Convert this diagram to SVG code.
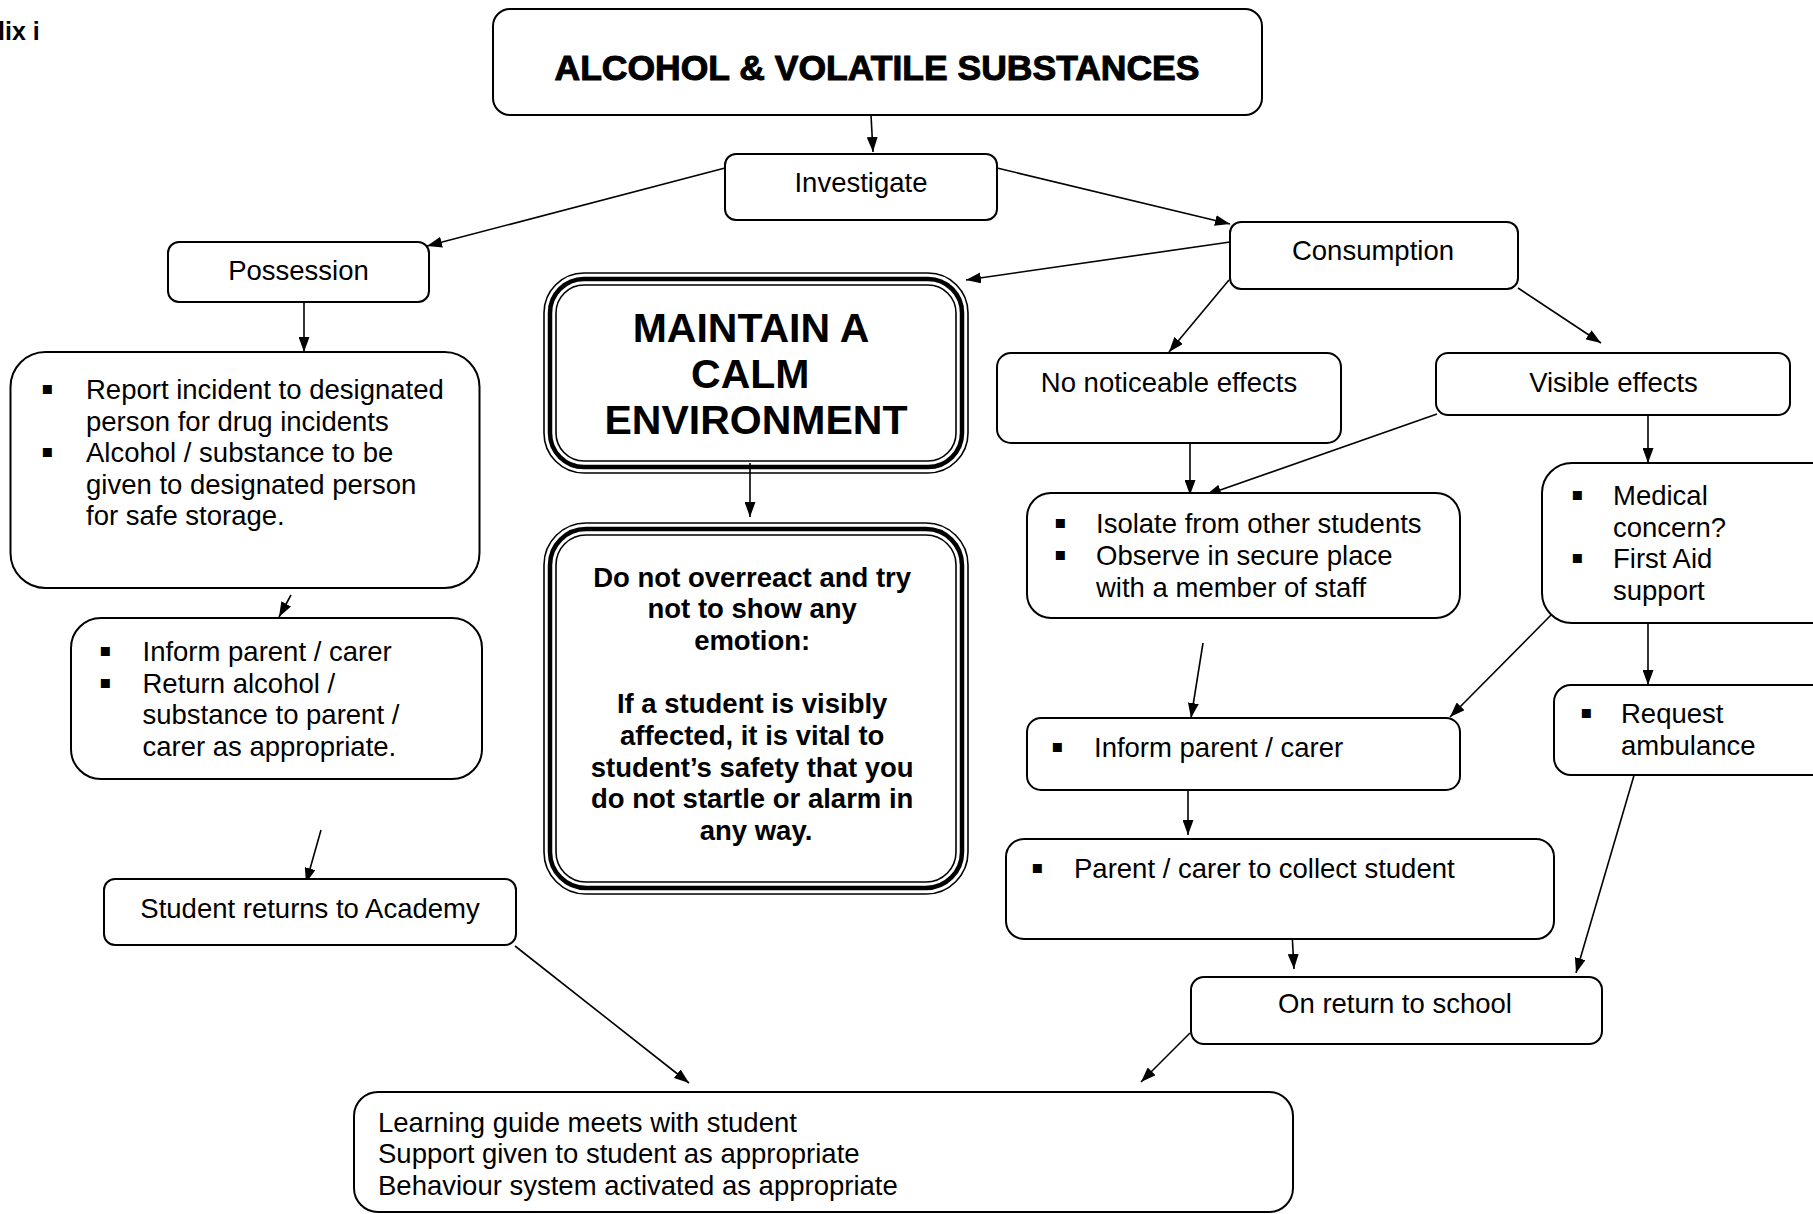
<svg xmlns="http://www.w3.org/2000/svg" width="1813" height="1214" viewBox="0 0 1813 1214">
<defs>
<marker id="ah" markerUnits="userSpaceOnUse" markerWidth="15" markerHeight="11" refX="15" refY="5.5" orient="auto">
<path d="M0,0 L15,5.5 L0,11 z" fill="#000"/>
</marker>
<style>
.box{fill:#fff;stroke:#000;stroke-width:2}
.thin{fill:none;stroke:#000;stroke-width:1.6}
.thick{fill:none;stroke:#000;stroke-width:4.5}
.t{font-family:"Liberation Sans",Arial,"DejaVu Sans",sans-serif;font-size:27.5px;fill:#000}
.b{font-weight:bold}
.c{text-anchor:middle}
.bul{font-family:"DejaVu Sans","Liberation Sans",sans-serif;font-size:18px}
.conn line{stroke:#000;stroke-width:1.6;marker-end:url(#ah)}
</style>
</defs>
<rect width="1813" height="1214" fill="#fff"/>
<text class="t b" x="-2" y="40" style="font-size:25px">lix i</text>

<g id="connectors" class="conn">
<line x1="871" y1="115" x2="873" y2="152"/>
<line x1="725" y1="168" x2="427" y2="246"/>
<line x1="997" y1="168" x2="1230" y2="224"/>
<line x1="1230" y1="242" x2="966" y2="280"/>
<line x1="304" y1="302" x2="304" y2="352"/>
<line x1="291" y1="595" x2="279" y2="617"/>
<line x1="321" y1="830" x2="306" y2="883"/>
<line x1="515" y1="946" x2="689" y2="1083"/>
<line x1="750" y1="463" x2="750" y2="517"/>
<line x1="1229" y1="280" x2="1169" y2="352"/>
<line x1="1518" y1="288" x2="1601" y2="343"/>
<line x1="1190" y1="443" x2="1190" y2="495"/>
<line x1="1437" y1="414" x2="1206" y2="495"/>
<line x1="1648" y1="416" x2="1648" y2="463"/>
<line x1="1203" y1="643" x2="1191" y2="718"/>
<line x1="1556" y1="610" x2="1450" y2="717"/>
<line x1="1648" y1="624" x2="1648" y2="685"/>
<line x1="1188" y1="786" x2="1188" y2="835"/>
<line x1="1292" y1="932" x2="1294" y2="969"/>
<line x1="1635" y1="772" x2="1576" y2="973"/>
<line x1="1190" y1="1033" x2="1141" y2="1082"/>
</g>

<g id="title">
<rect class="box" x="493" y="9" width="769" height="106" rx="17"/>
<text class="t b c" x="877" y="80" style="font-size:35.5px;stroke:#000;stroke-width:1">ALCOHOL &amp; VOLATILE SUBSTANCES</text>
</g>

<g id="investigate">
<rect class="box" x="725" y="154" width="272" height="66" rx="11"/>
<text class="t c" x="861" y="192">Investigate</text>
</g>

<g id="possession">
<rect class="box" x="168" y="242" width="261" height="60" rx="11"/>
<text class="t c" x="298.5" y="280">Possession</text>
</g>

<g id="consumption">
<rect class="box" x="1230" y="222" width="288" height="67" rx="11"/>
<text class="t c" x="1373" y="260">Consumption</text>
</g>

<g id="maintain">
<rect x="544" y="273" width="424" height="200" rx="40" fill="#fff" class="thin"/>
<rect class="thick" x="550" y="279" width="412" height="188" rx="34"/>
<rect class="thin" x="556" y="285" width="400" height="176" rx="28"/>
<text class="t b c" style="font-size:41px">
<tspan x="756" y="342">MAINTAIN A</tspan>
<tspan x="756" y="388">CALM</tspan>
<tspan x="756" y="434">ENVIRONMENT</tspan>
</text>
</g>

<g id="donot">
<rect x="544" y="523" width="424" height="371" rx="42" fill="#fff" class="thin"/>
<rect class="thick" x="550" y="529" width="412" height="359" rx="36"/>
<rect class="thin" x="556" y="535" width="400" height="347" rx="30"/>
<text class="t b c">
<tspan x="756" y="587">Do not overreact and try</tspan>
<tspan x="756" y="618">not to show any</tspan>
<tspan x="756" y="650">emotion:</tspan>
<tspan x="756" y="713">If a student is visibly</tspan>
<tspan x="756" y="745">affected, it is vital to</tspan>
<tspan x="756" y="777">student’s safety that you</tspan>
<tspan x="756" y="808">do not startle or alarm in</tspan>
<tspan x="756" y="840">any way.</tspan>
</text>
</g>

<g id="report">
<rect class="box" x="10.5" y="352" width="469" height="236" rx="35"/>
<text class="t bul" x="41" y="394">▪</text>
<text class="t bul" x="41" y="457">▪</text>
<text class="t">
<tspan x="86" y="399">Report incident to designated</tspan>
<tspan x="86" y="430.5">person for drug incidents</tspan>
<tspan x="86" y="462">Alcohol / substance to be</tspan>
<tspan x="86" y="493.5">given to designated person</tspan>
<tspan x="86" y="525">for safe storage.</tspan>
</text>
</g>

<g id="inform-left">
<rect class="box" x="71" y="618" width="411" height="161" rx="30"/>
<text class="t bul" x="99" y="656">▪</text>
<text class="t bul" x="99" y="687.5">▪</text>
<text class="t">
<tspan x="142.5" y="661">Inform parent / carer</tspan>
<tspan x="142.5" y="692.5">Return alcohol /</tspan>
<tspan x="142.5" y="724">substance to parent /</tspan>
<tspan x="142.5" y="755.5">carer as appropriate.</tspan>
</text>
</g>

<g id="student-returns">
<rect class="box" x="104" y="879" width="412" height="66" rx="11"/>
<text class="t c" x="310" y="918">Student returns to Academy</text>
</g>

<g id="no-effects">
<rect class="box" x="997" y="353" width="344" height="90" rx="14"/>
<text class="t c" x="1169" y="392">No noticeable effects</text>
</g>

<g id="visible-effects">
<rect class="box" x="1436" y="353" width="354" height="62" rx="12"/>
<text class="t c" x="1613.5" y="392">Visible effects</text>
</g>

<g id="isolate">
<rect class="box" x="1027" y="493" width="433" height="125" rx="24"/>
<text class="t bul" x="1054" y="528">▪</text>
<text class="t bul" x="1054" y="560">▪</text>
<text class="t">
<tspan x="1096" y="533">Isolate from other students</tspan>
<tspan x="1096" y="565">Observe in secure place</tspan>
<tspan x="1096" y="597">with a member of staff</tspan>
</text>
</g>

<g id="medical">
<rect class="box" x="1542" y="463" width="300" height="160" rx="30"/>
<text class="t bul" x="1571" y="500">▪</text>
<text class="t bul" x="1571" y="563">▪</text>
<text class="t">
<tspan x="1613" y="505">Medical</tspan>
<tspan x="1613" y="536.5">concern?</tspan>
<tspan x="1613" y="568">First Aid</tspan>
<tspan x="1613" y="599.5">support</tspan>
</text>
</g>

<g id="inform-right">
<rect class="box" x="1027" y="718" width="433" height="72" rx="14"/>
<text class="t bul" x="1051" y="752">▪</text>
<text class="t" x="1094" y="757">Inform parent / carer</text>
</g>

<g id="ambulance">
<rect class="box" x="1554" y="685" width="290" height="90" rx="17"/>
<text class="t bul" x="1580" y="718">▪</text>
<text class="t">
<tspan x="1621" y="723">Request</tspan>
<tspan x="1621" y="755">ambulance</tspan>
</text>
</g>

<g id="parent-collect">
<rect class="box" x="1006" y="839" width="548" height="100" rx="18"/>
<text class="t bul" x="1031" y="873">▪</text>
<text class="t" x="1074" y="878">Parent / carer to collect student</text>
</g>

<g id="on-return">
<rect class="box" x="1191" y="977" width="411" height="67" rx="13"/>
<text class="t c" x="1395" y="1013">On return to school</text>
</g>

<g id="learning">
<rect class="box" x="354" y="1092" width="939" height="120" rx="24"/>
<text class="t">
<tspan x="378" y="1132">Learning guide meets with student</tspan>
<tspan x="378" y="1163">Support given to student as appropriate</tspan>
<tspan x="378" y="1195">Behaviour system activated as appropriate</tspan>
</text>
</g>
</svg>
